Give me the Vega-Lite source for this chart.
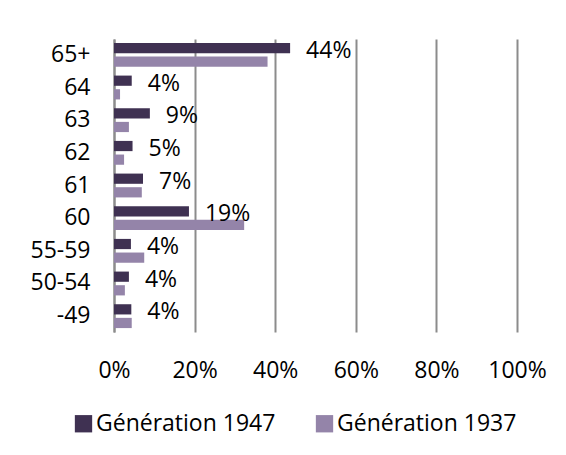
{
  "$schema": "https://vega.github.io/schema/vega-lite/v6.json",
  "autosize": {"type": "none"},
  "padding": {"left": 114, "top": 39, "right": 49, "bottom": 123},
  "width": 403,
  "height": 293,
  "background": "white",
  "config": {
    "font": "Open Sans",
    "view": {"stroke": null},
    "axis": {"labelFont": "Open Sans", "labelFontSize": 23, "labelColor": "#000000"},
    "legend": {"labelFont": "Open Sans", "labelFontSize": 23, "labelColor": "#000000", "labelLimit": 400, "padding": 0}
  },
  "data": {
    "values": [
      {"cat": "65+", "series": "Génération 1947", "value": 0.437},
      {"cat": "65+", "series": "Génération 1937", "value": 0.381},
      {"cat": "64", "series": "Génération 1947", "value": 0.044},
      {"cat": "64", "series": "Génération 1937", "value": 0.015},
      {"cat": "63", "series": "Génération 1947", "value": 0.089},
      {"cat": "63", "series": "Génération 1937", "value": 0.037},
      {"cat": "62", "series": "Génération 1947", "value": 0.046},
      {"cat": "62", "series": "Génération 1937", "value": 0.025},
      {"cat": "61", "series": "Génération 1947", "value": 0.072},
      {"cat": "61", "series": "Génération 1937", "value": 0.069},
      {"cat": "60", "series": "Génération 1947", "value": 0.186},
      {"cat": "60", "series": "Génération 1937", "value": 0.323},
      {"cat": "55-59", "series": "Génération 1947", "value": 0.042},
      {"cat": "55-59", "series": "Génération 1937", "value": 0.075},
      {"cat": "50-54", "series": "Génération 1947", "value": 0.037},
      {"cat": "50-54", "series": "Génération 1937", "value": 0.027},
      {"cat": "-49", "series": "Génération 1947", "value": 0.043},
      {"cat": "-49", "series": "Génération 1937", "value": 0.044}
    ]
  },
  "encoding": {
    "y": {
      "field": "cat", "type": "nominal",
      "sort": ["65+", "64", "63", "62", "61", "60", "55-59", "50-54", "-49"],
      "scale": {"paddingInner": 0.27, "paddingOuter": 0.12},
      "axis": {"title": null, "ticks": false, "domain": true, "domainColor": "#8C8C8C", "domainWidth": 2, "labelPadding": 24}
    },
    "yOffset": {
      "field": "series", "type": "nominal",
      "sort": ["Génération 1947", "Génération 1937"],
      "scale": {"paddingInner": 0.25, "paddingOuter": 0}
    },
    "x": {
      "field": "value", "type": "quantitative",
      "scale": {"domain": [0, 1]},
      "axis": {"title": null, "format": ".0%", "values": [0, 0.2, 0.4, 0.6, 0.8, 1], "labelOverlap": false, "labelBound": false, "labelFlush": false, "domain": false, "ticks": false, "grid": true, "gridColor": "#8C8C8C", "gridWidth": 2, "labelPadding": 27}
    }
  },
  "layer": [
    {
      "mark": {"type": "bar"},
      "encoding": {
        "color": {
          "field": "series", "type": "nominal",
          "sort": ["Génération 1947", "Génération 1937"],
          "scale": {"domain": ["Génération 1947", "Génération 1937"], "range": ["#3F3152", "#9484A9"]},
          "legend": {
            "title": null, "orient": "none", "direction": "horizontal",
            "legendX": -42, "legendY": 373,
            "symbolType": "square", "symbolSize": 300, "symbolStrokeWidth": 0,
            "labelOffset": 1, "columnPadding": 37
          }
        }
      }
    },
    {
      "transform": [{"filter": "datum.series === 'Génération 1947'"}],
      "mark": {"type": "text", "align": "left", "baseline": "middle", "dx": 16, "dy": 3, "fontSize": 23, "color": "#000000"},
      "encoding": {
        "text": {"field": "value", "type": "quantitative", "format": ".0%"}
      }
    }
  ]
}
